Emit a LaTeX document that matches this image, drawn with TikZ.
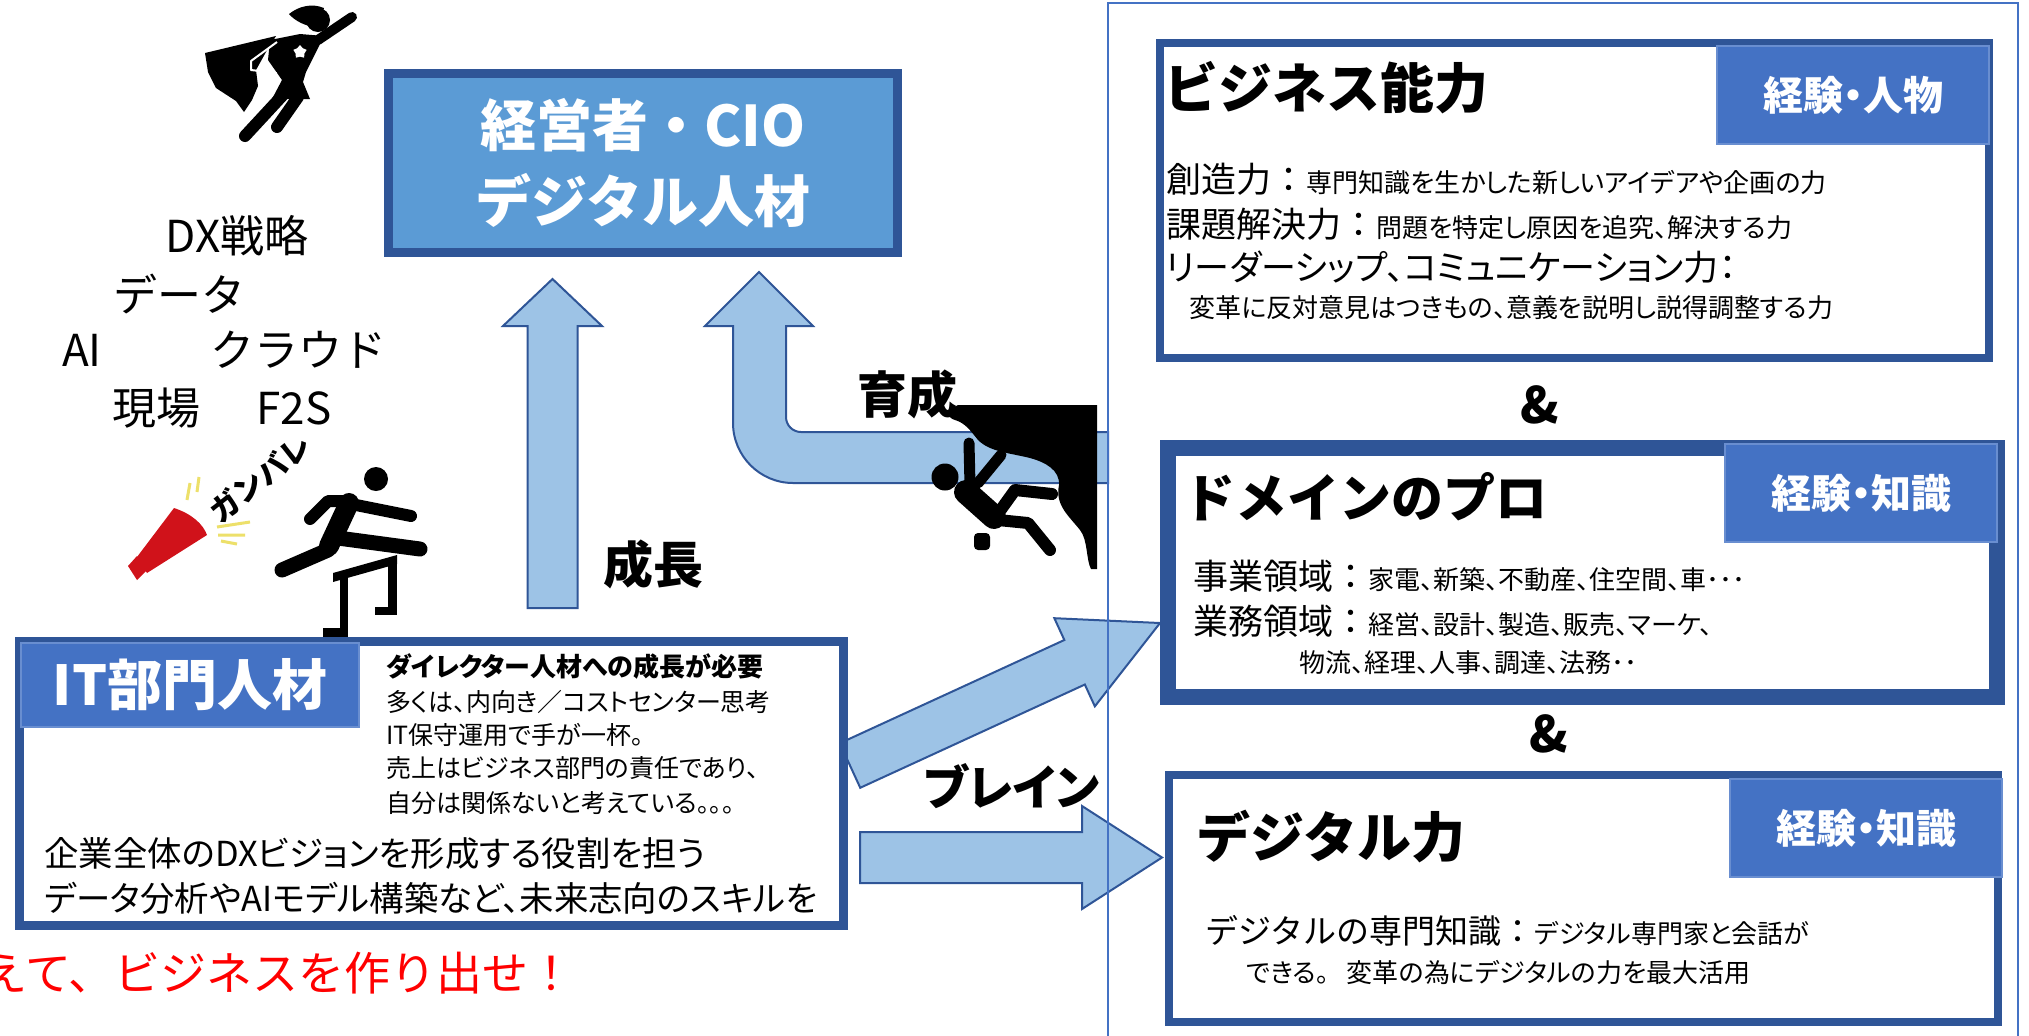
\documentclass[tikz,border=0pt]{standalone}
\usepackage{fontspec}
\setmainfont{Noto Sans CJK JP}
\newfontfamily\jpp[RawFeature=+palt]{Noto Sans CJK JP}
\usetikzlibrary{positioning, calc, shapes.geometric}
\definecolor{cFrame}{HTML}{2F5597}
\definecolor{cBadge}{HTML}{4472C4}
\definecolor{cLead}{HTML}{5B9BD5}
\definecolor{cArrow}{HTML}{9DC3E6}
\definecolor{cPanel}{HTML}{4472C4}
\definecolor{cShout}{HTML}{FF0000}
\definecolor{cHorn}{HTML}{D0121A}
\definecolor{cSpark}{HTML}{EDE06A}
\newcommand{\fsz}[1]{\fontsize{#1pt}{#1pt}\selectfont}
\newcommand{\keyterm}[1]{{\fsz{17.5}#1}}
\newcommand{\detail}[1]{{\jpp\fsz{13}#1}}
\tikzset{
  skillbox/.style={
    draw=cFrame, line width=#1,
    fill=white,
    outer sep=0pt, inner sep=0pt,
    anchor=north west
  },
  badge/.style={
    fill=cBadge, draw=cBadge!80!white, line width=1pt,
    text=white,
    font=\bfseries\fsz{20},
    minimum width=136pt, minimum height=49pt,
    outer sep=0pt, anchor=north east
  },
  boxtitle/.style={font=\bfseries\fsz{27}, anchor=west, inner sep=0pt},
  textline/.style={anchor=west, inner sep=0pt},
  keyword/.style={font=\fsz{22}, inner sep=0pt},
  arrowlabel/.style={font=\bfseries\fsz{25}, inner sep=0pt},
  fatarrow/.style={fill=cArrow, draw=cFrame, line width=1pt, line join=miter},
  limb/.style={line width=#1, line cap=round, line join=round}
}
% block arrow: tail, tip, shaft half width, head half width, head length
\newcommand{\fatarrow}[5]{%
  \coordinate (fa base) at ($(#2)!#5!(#1)$);
  \filldraw[fatarrow]
    ($(#1)!#3!90:(#2)$) -- ($(fa base)!#3!90:(#2)$) -- ($(fa base)!#4!90:(#2)$)
    -- (#2)
    -- ($(fa base)!#4!-90:(#2)$) -- ($(fa base)!#3!-90:(#2)$) -- ($(#1)!#3!-90:(#2)$)
    -- cycle;}

\begin{document}
\begin{tikzpicture}[x=0.5pt, y=-0.5pt]
  \clip (0,0) rectangle (2029,1035);
  \fill[white] (0,0) rectangle (2029,1035);

  % arrows
  \coordinate (grow tail) at (552.5,608);
  \coordinate (grow tip) at (552.5,279);
  \fatarrow{grow tail}{grow tip}{12.5pt}{24.75pt}{23.5pt}
  \coordinate (brain tail) at (850,765.5);
  \coordinate (brain tip) at (1160,623);
  \fatarrow{brain tail}{brain tip}{12.25pt}{24.25pt}{47pt}
  \coordinate (skill tail) at (860,857.5);
  \coordinate (skill tip) at (1162,857.5);
  \fatarrow{skill tail}{skill tip}{12.75pt}{25.75pt}{40pt}
  % bent arrow coming back from the right panel
  \filldraw[fatarrow] (733,326) -- (705,326) -- (759,272) -- (813,326) -- (786,326) -- (786,417)
    .. controls (786,425.3) and (792.7,432) .. (801,432) -- (1108,432) -- (1108,483) -- (793,483)
    .. controls (760,483) and (733,456) .. (733,423) -- cycle;

  % right panel
  \draw[cPanel, line width=1.25pt] (1108,3) rectangle (2018,1060);

  % leaders box
  \node[skillbox=4.5pt, fill=cLead, anchor=north west, minimum width=254.5pt, minimum height=89.5pt,
        text=white, font=\bfseries\fsz{28}, align=center] (lead) at (388.5,73.5)
        {経営者・CIO\\[10pt]デジタル人材};

  % keywords
  \node[keyword] (kdx) at (237,236) {DX戦略};
  \node[keyword] (kdata) at (179,294) {データ};
  \node[keyword] (kai) at (82,350) {AI};
  \node[keyword] (kcloud) at (298,350) {クラウド};
  \node[keyword] (ksite) at (156,408) {現場};
  \node[keyword] (kf2s) at (294,408) {F2S};

  % business skills
  \node[skillbox=4pt, minimum width=414.5pt, minimum height=157.5pt] (biz) at (1160,43) {};
  \node[badge] (bizbadge) at ([yshift=-1.5pt]biz.north east) {経験{\jpp ・}人物};
  \node[boxtitle] (biztitle) at (1164,88) {ビジネス能力};
  \node[textline] (biz1) at (1166,179) {\keyterm{創造力：}\detail{専門知識を生かした新しいアイデアや企画の力}};
  \node[textline, below=22.5pt of biz1.west, anchor=west] (biz2) {\keyterm{課題解決力：}\detail{問題を特定し原因を追究、解決する力}};
  \node[textline, below=21.5pt of biz2.west, anchor=west] (biz3) {\keyterm{\jpp リーダーシップ、コミュニケーション力：}};
  \node[textline, below=20.5pt of biz3.west, anchor=west, xshift=11.5pt] (biz4) {\detail{変革に反対意見はつきもの、意義を説明し説得調整する力}};

  \node[font=\bfseries\fsz{25}] (and1) at (1540,405) {\&};

  % domain skills
  \node[skillbox=8pt, minimum width=414.5pt, minimum height=124.5pt] (dom) at (1168,448) {};
  \node[badge] (dombadge) at ([yshift=2pt]dom.north east) {経験{\jpp ・}知識};
  \node[boxtitle, font=\bfseries\fsz{26}] (domtitle) at (1183,497) {ドメインのプロ};
  \node[textline] (dom1) at (1193,576) {\keyterm{事業領域：}\detail{家電、新築、不動産、住空間、車･･･}};
  \node[textline, below=22.5pt of dom1.west, anchor=west] (dom2) {\keyterm{業務領域：}\detail{経営、設計、製造、販売、マーケ、}};
  \node[textline, below=21pt of dom2.west, anchor=west, xshift=53pt] (dom3) {\detail{物流、経理、人事、調達、法務･･}};

  \node[font=\bfseries\fsz{25}] (and2) at (1549,734) {\&};

  % digital skills
  \node[skillbox=4pt, minimum width=414.5pt, minimum height=123.5pt] (dig) at (1169,775) {};
  \node[badge] (digbadge) at ([xshift=2pt, yshift=-2pt]dig.north east) {経験{\jpp ・}知識};
  \node[boxtitle] (digtitle) at (1196,837) {デジタル力};
  \node[textline] (dig1) at (1205,931) {{\fsz{16.5}デジタルの専門知識：}\detail{デジタル専門家と会話が}};
  \node[textline, below=21pt of dig1.west, anchor=west, xshift=20.5pt] (dig2) {\detail{できる。\hspace{9pt}変革の為にデジタルの力を最大活用}};

  % IT staff box
  \node[skillbox=4.5pt, minimum width=412pt, minimum height=142pt] (it) at (19.5,641.5) {};
  \node[badge, anchor=north west, minimum width=169pt, minimum height=42pt, font=\bfseries\fsz{27.5}]
        (itbadge) at ([xshift=0.75pt, yshift=-0.75pt]it.north west) {IT部門人材};
  \node[textline, font=\jpp\bfseries\fsz{13}] (it1) at (386,667) {ダイレクター人材への成長が必要};
  \node[textline, font=\jpp\fsz{12.5}, below=17.5pt of it1.west, anchor=west] (it2) {多くは、内向き／コストセンター思考};
  \node[textline, font=\jpp\fsz{12.5}, below=16.5pt of it2.west, anchor=west] (it3) {IT保守運用で手が一杯。};
  \node[textline, font=\jpp\fsz{12.5}, below=16.5pt of it3.west, anchor=west] (it4) {売上はビジネス部門の責任であり、};
  \node[textline, font=\jpp\fsz{12.5}, below=17.5pt of it4.west, anchor=west] (it5) {自分は関係ないと考えている。。。};
  \node[textline, font=\jpp\fsz{17.2}] (it6) at (44,853) {企業全体のDXビジョンを形成する役割を担う};
  \node[textline, font=\jpp\fsz{17.2}, below=22.5pt of it6.west, anchor=west] (it7) {データ分析やAIモデル構築など、未来志向のスキルを};

  \node[textline, font=\fsz{23}, text=cShout] (shout) at (-19,973) {えて、ビジネスを作り出せ！};

  % arrow labels
  \node[arrowlabel] (growlabel) at (653,564) {成長};
  \node[arrowlabel] (raiselabel) at (907,394) {育成};
  \node[arrowlabel, font=\jpp\bfseries\fsz{24}] (brainlabel) at (1012,786) {ブレイン};

  % flying hero
  \fill (205,53) -- (276,36) -- (266,52) -- (256,70) -- (258,86) -- (252,100) -- (244,112)
    -- (236,101) -- (216,88) -- (208,72) -- cycle;
  \fill (270,40) -- (300,34) -- (324,36) -- (316,52) -- (306,72) -- (303,82) -- (310,99)
    -- (272,99) -- (282,80) -- (268,60) -- cycle;
  \draw[white, line width=1pt, line join=round] (277,42) -- (251,61) -- (251,70) -- (276,73) -- (268,84);
  \draw[limb=5pt] (318,40) -- (352,17);
  \fill (318,20) circle (12);
  \fill (289,14) .. controls (299,6) and (312,3) .. (324,8) -- (318,28) .. controls (305,26) and (295,21) .. cycle;
  \draw[limb=6pt] (282,96) -- (245,136);
  \draw[limb=6pt] (298,97) -- (277,127);
  \node[star, star points=5, fill=white, inner sep=0pt, minimum size=7pt] (herostar) at (300,52) {};

  % cheering megaphone
  \fill[cHorn] (137,557) -- (174,508) .. controls (192,514) and (203,524) .. (207,535) -- (147,573) -- cycle;
  \fill[cHorn] (128,566) -- (137,556) -- (147,570) -- (137,580) -- cycle;
  \draw[cSpark, line width=1.5pt] (190,483) -- (187,500) (199,477) -- (197,492)
    (217,527) -- (250,522) (218,535) -- (245,535) (221,541) -- (237,544);
  \node[font=\bfseries\fsz{15}, rotate=38, inner sep=0pt] (cheer) at (260,478) {ガンバレ};

  % hurdler
  \fill (376,479) circle (12);
  \draw[limb=10pt] (349,503) -- (329,546);
  \draw[limb=6pt] (343,501) -- (328,501) -- (310,519);
  \draw[limb=6pt] (346,503) -- (411,516);
  \draw[limb=7.5pt] (328,550) -- (282,570);
  \draw[limb=7.5pt] (338,538) -- (420,549);
  \fill (333,573) -- (397,555) -- (397,564) -- (333,582) -- cycle;
  \fill (340,577) rectangle (348,637);
  \fill (323,628) rectangle (348,637);
  \fill (388,558) rectangle (397,615);
  \fill (375,607) rectangle (397,615);

  % climber on the cliff
  \fill (958,405) -- (1097,405) -- (1097,569) -- (1091,569)
    .. controls (1086,560) and (1088,540) .. (1080,530)
    .. controls (1068,515) and (1055,505) .. (1059,485)
    .. controls (1060,470) and (1045,462) .. (1030,458)
    .. controls (1010,453) and (990,452) .. (978,440)
    .. controls (970,430) and (965,423) .. (955,420)
    .. controls (947,418) and (946,410) .. cycle;
  \fill (945,477) circle (13.5);
  \draw[limb=12pt] (966,492) -- (994,517);
  \draw[limb=5.5pt] (970,485) -- (969,443);
  \draw[limb=5.5pt] (978,483) -- (1001,455);
  \draw[limb=6pt] (997,515) -- (1015,490) -- (1052,494);
  \draw[limb=6pt] (998,520) -- (1028,523) -- (1050,550);
  \fill[rounded corners=2pt] (974,533) rectangle (990,550);
\end{tikzpicture}
\end{document}
